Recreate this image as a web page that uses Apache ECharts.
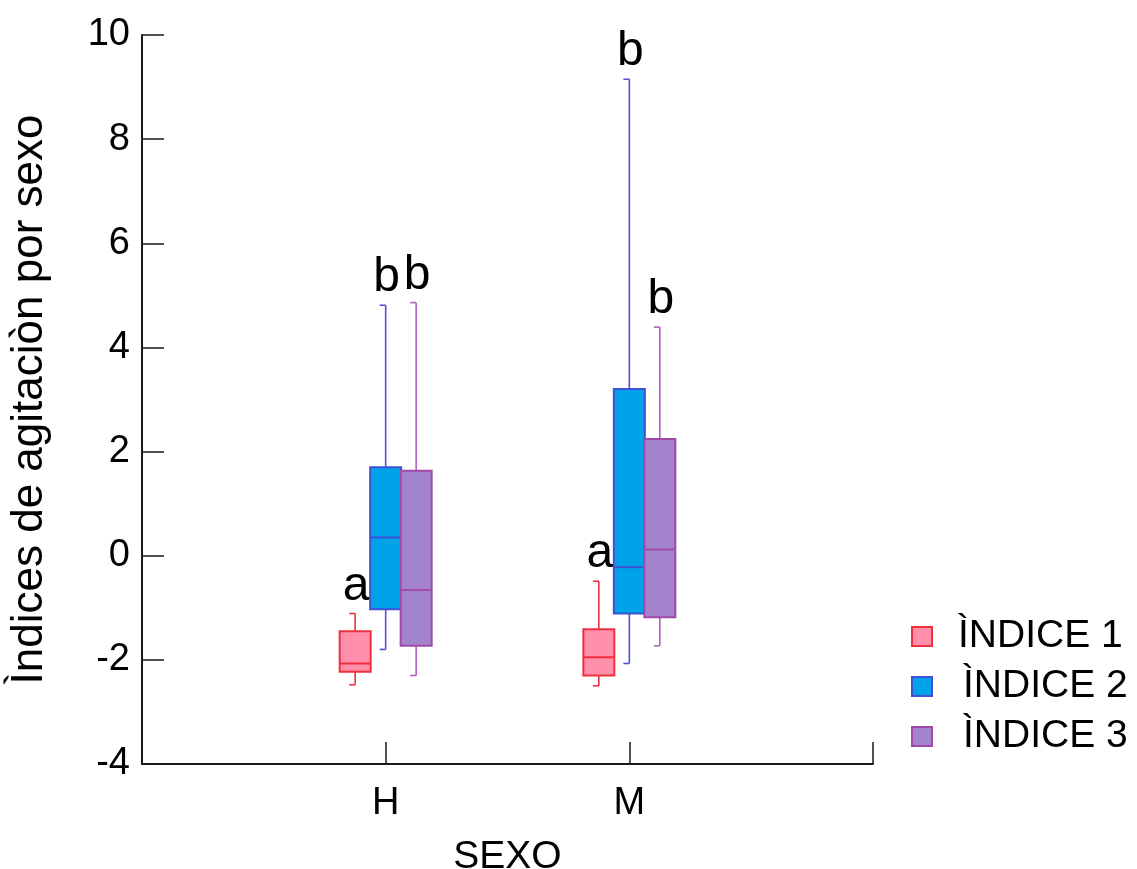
<!DOCTYPE html>
<html>
<head>
<meta charset="utf-8">
<title>Índices de agitación por sexo</title>
<script src="https://cdn.jsdelivr.net/npm/echarts@6/dist/echarts.min.js"></script>
<style>
  html, body { margin: 0; padding: 0; background: #ffffff; }
  #chart { width: 1137px; height: 869px; }
</style>
</head>
<body>
<div id="chart"></div>
<script>
// Groups on the x axis
const categories = ['H', 'M'];

// Box statistics per group: [min, Q1, median, Q3, max]
const indice1 = [
  [-2.48, -2.23, -2.07, -1.45, -1.11],
  [-2.50, -2.30, -1.95, -1.41, -0.49]
];
const indice2 = [
  [-1.80, -1.03, 0.35, 1.70, 4.81],
  [-2.07, -1.11, -0.22, 3.20, 9.15]
];
const indice3 = [
  [-2.30, -1.73, -0.66, 1.63, 4.86],
  [-1.73, -1.18, 0.12, 2.24, 4.39]
];

// Significance letters above each box
const letters1 = ['a', 'a'];
const letters2 = ['b', 'b'];
const letters3 = ['b', 'b'];

const seriesNames = ['ÌNDICE 1', 'ÌNDICE 2', 'ÌNDICE 3'];
const yTicks = { min: -4, max: 10, step: 2 };

const FONT = '"Liberation Sans", Arial, sans-serif';
const styles = [
  { fill: '#FF8FAB', border: '#F0303F', whisker: '#F0303F', legendPad: 21 },
  { fill: '#00A2E8', border: '#3F52D6', whisker: '#5050DC', legendPad: 26 },
  { fill: '#A383CB', border: '#A04AA8', whisker: '#B060C0', legendPad: 26 }
];
const BOX_STEP = 30.5;
const BOX_W = 31;
const CAP = 6;

// axis categories: blank slots at both ends so H and M fall on inner ticks
const axisCats = [''].concat(categories, ['']);

function toRows(stats, letters) {
  return stats.map((s, i) => [i + 1].concat(s, [letters[i]]));
}

function renderBox(params, api) {
  const si = params.seriesIndex;
  const st = styles[si];
  const cat = api.value(0);
  const vals = [1, 2, 3, 4, 5].map(k => api.value(k));
  const base = api.coord([cat, vals[2]]);
  const cx = base[0] + (si - 1) * BOX_STEP;
  const y = vals.map(v => api.coord([cat, v])[1]);
  const half = BOX_W / 2;
  const letter = api.value(6);
  return {
    type: 'group',
    children: [
      { type: 'line', shape: { x1: cx, y1: y[4], x2: cx, y2: y[3] },
        style: { stroke: st.whisker, lineWidth: 1.6 } },
      { type: 'line', shape: { x1: cx - CAP, y1: y[4], x2: cx, y2: y[4] },
        style: { stroke: st.whisker, lineWidth: 1.6 } },
      { type: 'line', shape: { x1: cx, y1: y[1], x2: cx, y2: y[0] },
        style: { stroke: st.whisker, lineWidth: 1.6 } },
      { type: 'line', shape: { x1: cx - CAP, y1: y[0], x2: cx, y2: y[0] },
        style: { stroke: st.whisker, lineWidth: 1.6 } },
      { type: 'rect', shape: { x: cx - half, y: y[3], width: BOX_W, height: y[1] - y[3] },
        style: { fill: st.fill, stroke: st.border, lineWidth: 2 } },
      { type: 'line', shape: { x1: cx - half, y1: y[2], x2: cx + half, y2: y[2] },
        style: { stroke: st.border, lineWidth: 2 } },
      { type: 'text', x: cx + 1, y: y[4] - 3,
        style: { text: letter, fill: '#000', font: '48px ' + FONT,
                 align: 'center', verticalAlign: 'bottom' } }
    ]
  };
}

const statSets = [indice1, indice2, indice3];
const letterSets = [letters1, letters2, letters3];

const chart = echarts.init(document.getElementById('chart'), null, { renderer: 'canvas' });
chart.setOption({
  backgroundColor: '#ffffff',
  animation: false,
  grid: { left: 142, right: 264, top: 35, bottom: 105, containLabel: false, outerBoundsMode: 'none' },
  legend: {
    orient: 'vertical',
    left: 911,
    top: 617,
    padding: 0,
    itemWidth: 20,
    itemHeight: 19,
    itemGap: 11,
    icon: 'rect',
    data: seriesNames.map((n, i) => ({
      name: n,
      itemStyle: { color: styles[i].fill, borderColor: styles[i].border, borderWidth: 2 },
      textStyle: { padding: [0, 0, 0, styles[i].legendPad] }
    })),
    textStyle: { fontFamily: FONT, fontSize: 39, color: '#000' }
  },
  xAxis: {
    type: 'category',
    data: axisCats,
    boundaryGap: false,
    name: 'SEXO',
    nameLocation: 'middle',
    nameGap: 74,
    nameTextStyle: { fontFamily: FONT, fontSize: 39, color: '#000' },
    axisLine: { onZero: false, lineStyle: { color: '#1a1a1a', width: 2 } },
    axisTick: { inside: true, length: 22, interval: 0, lineStyle: { color: '#1a1a1a', width: 1.5 } },
    axisLabel: { interval: 0, margin: 21, fontFamily: FONT, fontSize: 38, color: '#000' },
    splitLine: { show: false }
  },
  yAxis: {
    type: 'value',
    min: yTicks.min,
    max: yTicks.max,
    interval: yTicks.step,
    name: 'Ìndices de agitaciòn por sexo',
    nameLocation: 'middle',
    nameGap: 90,
    nameTextStyle: { fontFamily: FONT, fontSize: 44, color: '#000' },
    axisLine: { show: true, onZero: false, lineStyle: { color: '#1a1a1a', width: 2 } },
    axisTick: { show: true, inside: true, length: 22, lineStyle: { color: '#1a1a1a', width: 1.5 } },
    axisLabel: { margin: 12, fontFamily: FONT, fontSize: 38, color: '#000' },
    splitLine: { show: false }
  },
  series: statSets.map((stats, i) => ({
    type: 'custom',
    name: seriesNames[i],
    itemStyle: { color: styles[i].fill, borderColor: styles[i].border },
    renderItem: renderBox,
    encode: { x: 0, y: [1, 2, 3, 4, 5] },
    data: toRows(stats, letterSets[i]),
    clip: false
  }))
});
</script>
</body>
</html>
